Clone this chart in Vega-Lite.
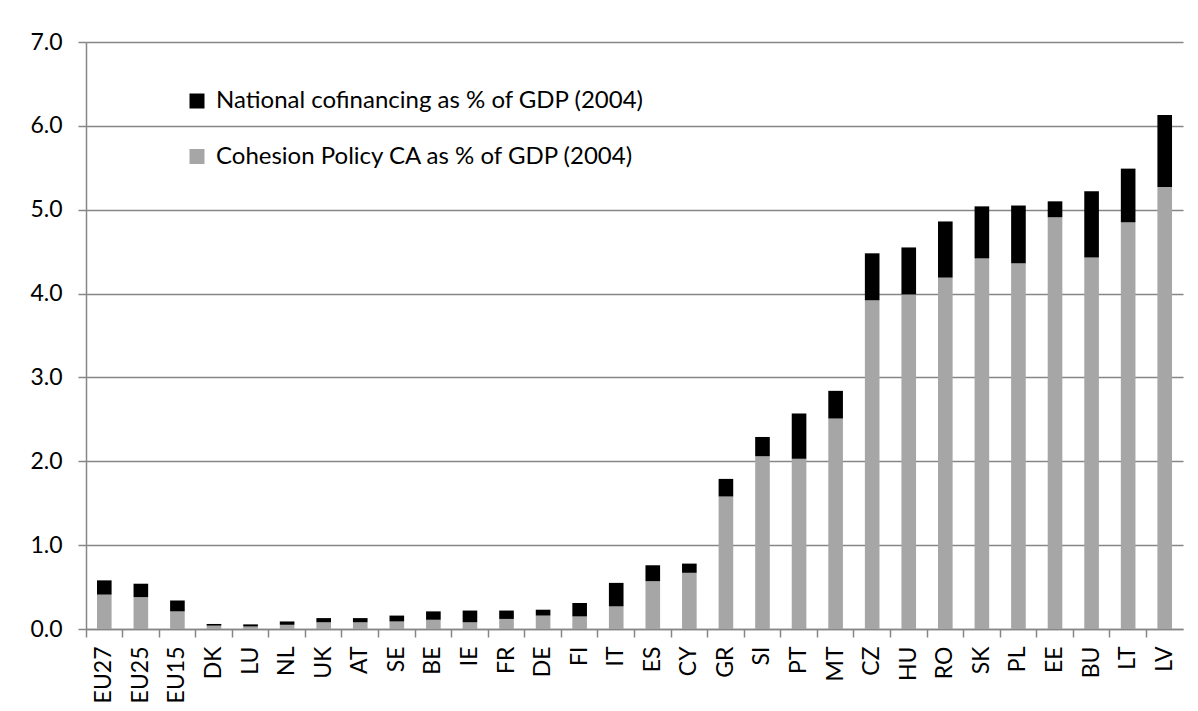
{
  "$schema": "https://vega.github.io/schema/vega-lite/v6.json",
  "width": 1097,
  "height": 587,
  "autosize": {"type": "none"},
  "padding": {"left": 86, "top": 42, "right": 15, "bottom": 82},
  "background": "white",
  "config": {
    "view": {"stroke": null},
    "font": "Lato"
  },
  "data": {
    "values": [
      {"country": "EU27", "series": "Cohesion Policy CA as % of GDP (2004)", "value": 0.41},
      {"country": "EU27", "series": "National cofinancing as % of GDP (2004)", "value": 0.17},
      {"country": "EU25", "series": "Cohesion Policy CA as % of GDP (2004)", "value": 0.38},
      {"country": "EU25", "series": "National cofinancing as % of GDP (2004)", "value": 0.16},
      {"country": "EU15", "series": "Cohesion Policy CA as % of GDP (2004)", "value": 0.21},
      {"country": "EU15", "series": "National cofinancing as % of GDP (2004)", "value": 0.13},
      {"country": "DK", "series": "Cohesion Policy CA as % of GDP (2004)", "value": 0.04},
      {"country": "DK", "series": "National cofinancing as % of GDP (2004)", "value": 0.02},
      {"country": "LU", "series": "Cohesion Policy CA as % of GDP (2004)", "value": 0.03},
      {"country": "LU", "series": "National cofinancing as % of GDP (2004)", "value": 0.025},
      {"country": "NL", "series": "Cohesion Policy CA as % of GDP (2004)", "value": 0.05},
      {"country": "NL", "series": "National cofinancing as % of GDP (2004)", "value": 0.04},
      {"country": "UK", "series": "Cohesion Policy CA as % of GDP (2004)", "value": 0.08},
      {"country": "UK", "series": "National cofinancing as % of GDP (2004)", "value": 0.05},
      {"country": "AT", "series": "Cohesion Policy CA as % of GDP (2004)", "value": 0.08},
      {"country": "AT", "series": "National cofinancing as % of GDP (2004)", "value": 0.05},
      {"country": "SE", "series": "Cohesion Policy CA as % of GDP (2004)", "value": 0.09},
      {"country": "SE", "series": "National cofinancing as % of GDP (2004)", "value": 0.07},
      {"country": "BE", "series": "Cohesion Policy CA as % of GDP (2004)", "value": 0.11},
      {"country": "BE", "series": "National cofinancing as % of GDP (2004)", "value": 0.10},
      {"country": "IE", "series": "Cohesion Policy CA as % of GDP (2004)", "value": 0.08},
      {"country": "IE", "series": "National cofinancing as % of GDP (2004)", "value": 0.14},
      {"country": "FR", "series": "Cohesion Policy CA as % of GDP (2004)", "value": 0.12},
      {"country": "FR", "series": "National cofinancing as % of GDP (2004)", "value": 0.10},
      {"country": "DE", "series": "Cohesion Policy CA as % of GDP (2004)", "value": 0.16},
      {"country": "DE", "series": "National cofinancing as % of GDP (2004)", "value": 0.07},
      {"country": "FI", "series": "Cohesion Policy CA as % of GDP (2004)", "value": 0.15},
      {"country": "FI", "series": "National cofinancing as % of GDP (2004)", "value": 0.16},
      {"country": "IT", "series": "Cohesion Policy CA as % of GDP (2004)", "value": 0.27},
      {"country": "IT", "series": "National cofinancing as % of GDP (2004)", "value": 0.28},
      {"country": "ES", "series": "Cohesion Policy CA as % of GDP (2004)", "value": 0.57},
      {"country": "ES", "series": "National cofinancing as % of GDP (2004)", "value": 0.19},
      {"country": "CY", "series": "Cohesion Policy CA as % of GDP (2004)", "value": 0.67},
      {"country": "CY", "series": "National cofinancing as % of GDP (2004)", "value": 0.11},
      {"country": "GR", "series": "Cohesion Policy CA as % of GDP (2004)", "value": 1.58},
      {"country": "GR", "series": "National cofinancing as % of GDP (2004)", "value": 0.21},
      {"country": "SI", "series": "Cohesion Policy CA as % of GDP (2004)", "value": 2.06},
      {"country": "SI", "series": "National cofinancing as % of GDP (2004)", "value": 0.23},
      {"country": "PT", "series": "Cohesion Policy CA as % of GDP (2004)", "value": 2.03},
      {"country": "PT", "series": "National cofinancing as % of GDP (2004)", "value": 0.54},
      {"country": "MT", "series": "Cohesion Policy CA as % of GDP (2004)", "value": 2.51},
      {"country": "MT", "series": "National cofinancing as % of GDP (2004)", "value": 0.33},
      {"country": "CZ", "series": "Cohesion Policy CA as % of GDP (2004)", "value": 3.92},
      {"country": "CZ", "series": "National cofinancing as % of GDP (2004)", "value": 0.56},
      {"country": "HU", "series": "Cohesion Policy CA as % of GDP (2004)", "value": 3.99},
      {"country": "HU", "series": "National cofinancing as % of GDP (2004)", "value": 0.56},
      {"country": "RO", "series": "Cohesion Policy CA as % of GDP (2004)", "value": 4.19},
      {"country": "RO", "series": "National cofinancing as % of GDP (2004)", "value": 0.67},
      {"country": "SK", "series": "Cohesion Policy CA as % of GDP (2004)", "value": 4.42},
      {"country": "SK", "series": "National cofinancing as % of GDP (2004)", "value": 0.62},
      {"country": "PL", "series": "Cohesion Policy CA as % of GDP (2004)", "value": 4.36},
      {"country": "PL", "series": "National cofinancing as % of GDP (2004)", "value": 0.69},
      {"country": "EE", "series": "Cohesion Policy CA as % of GDP (2004)", "value": 4.91},
      {"country": "EE", "series": "National cofinancing as % of GDP (2004)", "value": 0.19},
      {"country": "BU", "series": "Cohesion Policy CA as % of GDP (2004)", "value": 4.43},
      {"country": "BU", "series": "National cofinancing as % of GDP (2004)", "value": 0.79},
      {"country": "LT", "series": "Cohesion Policy CA as % of GDP (2004)", "value": 4.85},
      {"country": "LT", "series": "National cofinancing as % of GDP (2004)", "value": 0.64},
      {"country": "LV", "series": "Cohesion Policy CA as % of GDP (2004)", "value": 5.27},
      {"country": "LV", "series": "National cofinancing as % of GDP (2004)", "value": 0.86}
    ]
  },
  "mark": {"type": "bar", "width": {"band": 0.4}},
  "encoding": {
    "x": {
      "field": "country",
      "type": "nominal",
      "sort": null,
      "scale": {"paddingInner": 0, "paddingOuter": 0},
      "axis": {
        "title": null,
        "labelAngle": -90,
        "labelFontSize": 23,
        "labelColor": "black",
        "labelPadding": 9,
        "bandPosition": 0,
        "tickSize": 8,
        "tickColor": "#868686",
        "tickWidth": 1.5,
        "domainColor": "#868686",
        "domainWidth": 1.5,
        "grid": false
      }
    },
    "y": {
      "field": "value",
      "type": "quantitative",
      "stack": "zero",
      "scale": {"domain": [0, 7], "nice": false},
      "axis": {
        "title": null,
        "values": [0, 1, 2, 3, 4, 5, 6, 7],
        "format": ".1f",
        "labelFontSize": 23,
        "labelColor": "black",
        "labelPadding": 16,
        "tickSize": 8,
        "tickColor": "#868686",
        "tickWidth": 1.5,
        "domainColor": "#868686",
        "domainWidth": 1.5,
        "grid": true,
        "gridColor": "#868686",
        "gridWidth": 1.5
      }
    },
    "color": {
      "field": "series",
      "type": "nominal",
      "scale": {
        "domain": ["National cofinancing as % of GDP (2004)", "Cohesion Policy CA as % of GDP (2004)"],
        "range": ["#000000", "#A6A6A6"]
      },
      "legend": {
        "title": null,
        "orient": "none",
        "legendX": 99,
        "legendY": 47,
        "padding": 0,
        "symbolType": "square",
        "symbolSize": 225,
        "symbolStrokeWidth": 0,
        "labelFontSize": 24,
        "labelColor": "black",
        "labelOffset": 7,
        "rowPadding": 31.5,
        "labelLimit": 700
      }
    },
    "order": {"field": "series", "sort": "ascending"}
  }
}
